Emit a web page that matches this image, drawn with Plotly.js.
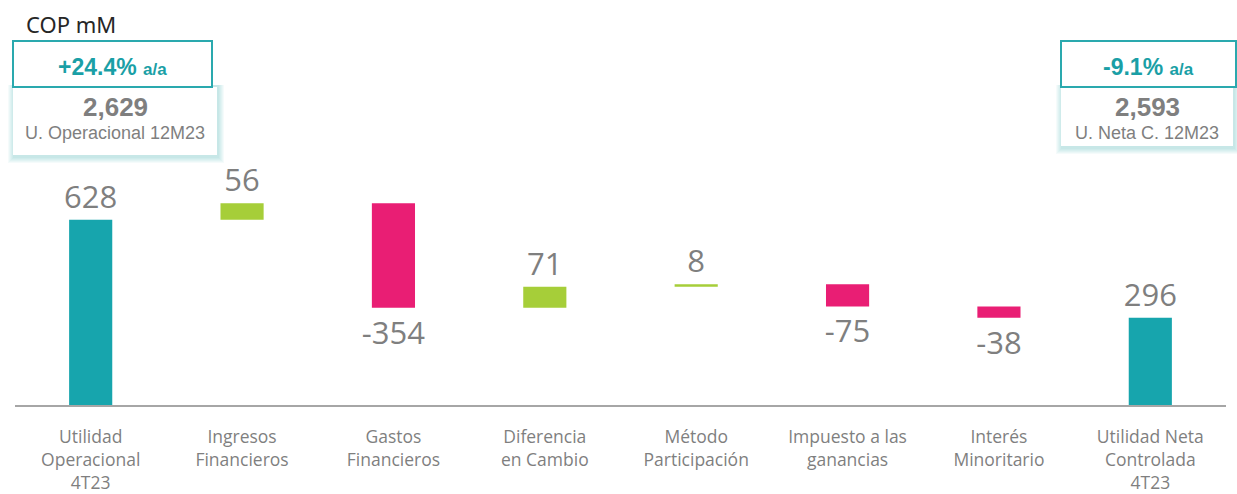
<!DOCTYPE html>
<html>
<head>
<meta charset="utf-8">
<script src="https://cdn.plot.ly/plotly-3.0.1.min.js"></script>
<style>html,body{margin:0;padding:0;background:#fff;}#chart{width:1237px;height:494px;}</style>
</head>
<body>
<div id="chart"></div>
<script>
// ---- data ----
var categories = ["Utilidad<br>Operacional<br>4T23", "Ingresos<br>Financieros", "Gastos<br>Financieros", "Diferencia<br>en Cambio", "Método<br>Participación", "Impuesto a las<br>ganancias", "Interés<br>Minoritario", "Utilidad Neta<br>Controlada<br>4T23"];
var values = [628, 56, -354, 71, 8, -75, -38, 296];
var measures = ["absolute", "relative", "relative", "relative", "relative", "relative", "relative", "total"];
var valueLabels = ["628", "56", "-354", "71", "8", "-75", "-38", "296"];
var unitLabel = "COP mM";
var leftBox = {change: "+24.4%", unit: "a/a", value: "2,629", label: "U. Operacional 12M23"};
var rightBox = {change: "-9.1%", unit: "a/a", value: "2,593", label: "U. Neta C. 12M23"};

// ---- layout helpers (pixel -> paper) ----
var W = 1237, H = 494, ML = 15, MR = 11, MT = 110, MB = 89;
var PW = W - ML - MR, PH = H - MT - MB;
function px(x){ return (x - ML) / PW; }
function py(y){ return (H - MB - y) / PH; }

var TEAL = "#17a5ad", GREEN = "#a6ce39", PINK = "#e91e74", GRAY = "#7f7f7f";

var trace = {
  type: "waterfall",
  x: categories,
  y: values,
  measure: measures,
  text: valueLabels,
  textposition: "outside",
  constraintext: "none",
  textfont: {family: "Open Sans, sans-serif", size: 31, color: GRAY},
  cliponaxis: false,
  increasing: {marker: {color: GREEN}},
  decreasing: {marker: {color: PINK}},
  totals: {marker: {color: TEAL}},
  connector: {visible: false},
  hoverinfo: "skip"
};

var shapes = [];
var annotations = [];

function addBox(b, x0, x1, yTop, yMid, yBot, x1b){
  for (var i = 6; i >= 1; i--) {
    shapes.push({type: "rect", xref: "paper", yref: "paper",
      x0: px(x0 - i + 1), x1: px(x1b + i + 1), y0: py(yBot + i + 2), y1: py(yMid - 2),
      line: {width: 0}, fillcolor: "rgba(23,165,173,0.045)", layer: "above"});
  }
  shapes.push({type: "rect", xref: "paper", yref: "paper",
    x0: px(x0), x1: px(x1b), y0: py(yBot), y1: py(yMid),
    line: {width: 0}, fillcolor: "#ffffff", layer: "above"});
  shapes.push({type: "rect", xref: "paper", yref: "paper",
    x0: px(x0), x1: px(x1), y0: py(yMid), y1: py(yTop),
    line: {width: 2, color: "#2aa9ae"}, fillcolor: "#ffffff", layer: "above"});
  var cx = (x0 + x1) / 2;
  annotations.push({xref: "paper", yref: "paper", x: px(cx), y: py((yTop + yMid) / 2 + 3),
    text: "<b>" + b.change + " <span style='font-size:17px'>" + b.unit + "</span></b>",
    showarrow: false, font: {family: "Liberation Sans, Arial, sans-serif", size: 23, color: "#1a9fa6"},
    xanchor: "center", yanchor: "middle"});
  var cxb = (x0 + x1b) / 2;
  annotations.push({xref: "paper", yref: "paper", x: px(cxb), y: py(yMid + 20),
    text: "<b>" + b.value + "</b>", showarrow: false,
    font: {family: "Liberation Sans, Arial, sans-serif", size: 26, color: GRAY},
    xanchor: "center", yanchor: "middle"});
  annotations.push({xref: "paper", yref: "paper", x: px(cxb), y: py(yMid + 46),
    text: b.label, showarrow: false,
    font: {family: "Liberation Sans, Arial, sans-serif", size: 18, color: GRAY},
    xanchor: "center", yanchor: "middle"});
}

addBox(leftBox, 13, 212, 41, 87, 155, 217);
addBox(rightBox, 1061, 1236, 41, 87, 146, 1233);

annotations.push({xref: "paper", yref: "paper", x: px(24), y: py(24), text: unitLabel,
  showarrow: false, xanchor: "left", yanchor: "middle",
  font: {family: "Noto Sans, sans-serif", size: 22, color: "#262626"}});

var layout = {
  width: W, height: H,
  margin: {l: ML, r: MR, t: MT, b: MB, pad: 0},
  paper_bgcolor: "#ffffff", plot_bgcolor: "#ffffff",
  showlegend: false,
  waterfallgap: 0.715,
  xaxis: {type: "category", showline: true, linecolor: "#a6a6a6", linewidth: 2,
    showgrid: false, zeroline: false, ticks: "", ticklabelstandoff: 15,
    tickfont: {family: "Open Sans, sans-serif", size: 17.5, color: GRAY},
    fixedrange: true},
  yaxis: {visible: false, range: [0, 1000], fixedrange: true},
  shapes: shapes,
  annotations: annotations
};

Plotly.newPlot("chart", [trace], layout, {displayModeBar: false, staticPlot: true});
</script>
</body>
</html>
